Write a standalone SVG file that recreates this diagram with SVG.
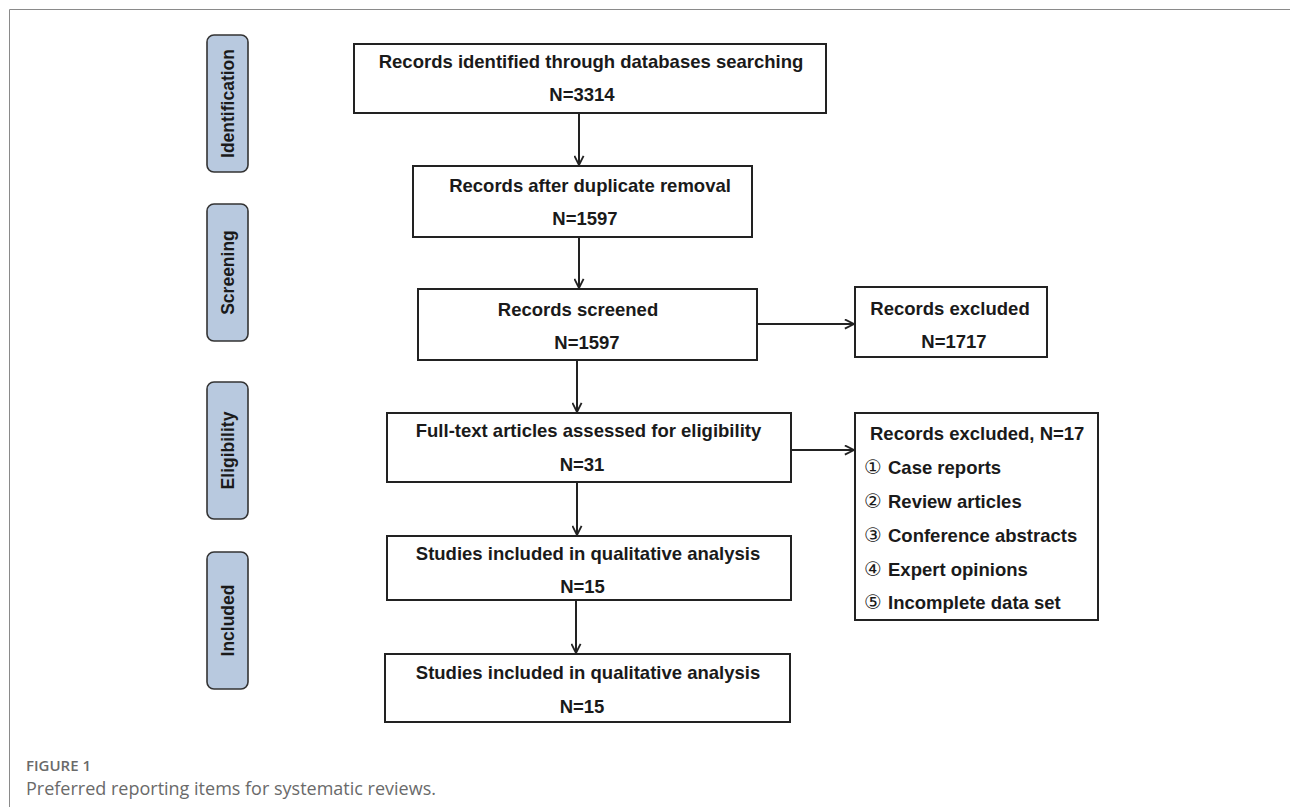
<svg xmlns="http://www.w3.org/2000/svg" width="1290" height="807" viewBox="0 0 1290 807">
<style>
.box{fill:#fff;stroke:#222;stroke-width:2}
.pill{fill:#b8c9df;stroke:#333;stroke-width:1.6}
.t{font-family:"Liberation Sans",Arial,sans-serif;font-weight:bold;font-size:18.5px;fill:#1a1a1a}
.m{text-anchor:middle}
.pt{font-family:"Liberation Sans",Arial,sans-serif;font-weight:bold;font-size:17.5px;fill:#1a1a1a;text-anchor:middle}
.cd{font-family:"DejaVu Sans",sans-serif;font-weight:normal;font-size:20px}
.conn{stroke:#222;stroke-width:2;fill:none}
.cap{font-family:"Open Sans","Liberation Sans",sans-serif;fill:#6a6a6a}
</style>
<defs>
<marker id="ah" viewBox="0 0 12 12" refX="11" refY="6" markerWidth="11" markerHeight="11" markerUnits="userSpaceOnUse" orient="auto">
<path d="M1,1 L11,6 L1,11" fill="none" stroke="#222" stroke-width="2"/>
</marker>
</defs>
<rect width="1290" height="807" fill="#fff"/>
<path d="M9.5,807 V9.5 H1290" fill="none" stroke="#8a8a8a" stroke-width="1"/>

<g id="stage-identification">
<rect class="pill" x="207" y="35" width="41" height="137" rx="7"/>
<text class="pt" transform="translate(233.5,103.5) rotate(-90)">Identification</text>
</g>
<g id="stage-screening">
<rect class="pill" x="207" y="204" width="41" height="137" rx="7"/>
<text class="pt" transform="translate(233.5,272.5) rotate(-90)">Screening</text>
</g>
<g id="stage-eligibility">
<rect class="pill" x="207" y="382" width="41" height="137" rx="7"/>
<text class="pt" transform="translate(233.5,450.5) rotate(-90)">Eligibility</text>
</g>
<g id="stage-included">
<rect class="pill" x="207" y="552" width="41" height="137" rx="7"/>
<text class="pt" transform="translate(233.5,620.5) rotate(-90)">Included</text>
</g>

<g id="n-identified">
<rect class="box" x="354" y="44" width="472" height="69"/>
<text class="t m" x="591" y="68">Records identified through databases searching</text>
<text class="t m" x="582" y="101">N=3314</text>
</g>
<g id="n-dedup">
<rect class="box" x="413" y="166" width="339" height="71"/>
<text class="t m" x="590" y="192">Records after duplicate removal</text>
<text class="t m" x="585" y="225">N=1597</text>
</g>
<g id="n-screened">
<rect class="box" x="418" y="289" width="339" height="71"/>
<text class="t m" x="578" y="316">Records screened</text>
<text class="t m" x="587" y="349">N=1597</text>
</g>
<g id="n-excluded1">
<rect class="box" x="855" y="287" width="192" height="70"/>
<text class="t m" x="950" y="315">Records excluded</text>
<text class="t m" x="954" y="348">N=1717</text>
</g>
<g id="n-fulltext">
<rect class="box" x="387" y="413" width="404" height="69"/>
<text class="t m" x="588.5" y="437">Full-text articles assessed for eligibility</text>
<text class="t m" x="582" y="471">N=31</text>
</g>
<g id="n-excluded2">
<rect class="box" x="855" y="413" width="243" height="207"/>
<text class="t" x="870" y="440">Records excluded, N=17</text>
<text class="t" x="864" y="474"><tspan class="cd">①</tspan><tspan x="888">Case reports</tspan></text>
<text class="t" x="864" y="508"><tspan class="cd">②</tspan><tspan x="888">Review articles</tspan></text>
<text class="t" x="864" y="542"><tspan class="cd">③</tspan><tspan x="888">Conference abstracts</tspan></text>
<text class="t" x="864" y="576"><tspan class="cd">④</tspan><tspan x="888">Expert opinions</tspan></text>
<text class="t" x="864" y="609"><tspan class="cd">⑤</tspan><tspan x="888">Incomplete data set</tspan></text>
</g>
<g id="n-qual1">
<rect class="box" x="387" y="536" width="404" height="64"/>
<text class="t m" x="588" y="560">Studies included in qualitative analysis</text>
<text class="t m" x="582.5" y="593">N=15</text>
</g>
<g id="n-qual2">
<rect class="box" x="385" y="654" width="405" height="68"/>
<text class="t m" x="588" y="679">Studies included in qualitative analysis</text>
<text class="t m" x="582" y="713">N=15</text>
</g>

<g id="connectors">
<line class="conn" x1="579" y1="113" x2="579" y2="165" marker-end="url(#ah)"/>
<line class="conn" x1="579" y1="237" x2="579" y2="288" marker-end="url(#ah)"/>
<line class="conn" x1="577" y1="360" x2="577" y2="412" marker-end="url(#ah)"/>
<line class="conn" x1="577" y1="482" x2="577" y2="535" marker-end="url(#ah)"/>
<line class="conn" x1="576" y1="600" x2="576" y2="653" marker-end="url(#ah)"/>
<line class="conn" x1="757" y1="324" x2="854" y2="324" marker-end="url(#ah)"/>
<line class="conn" x1="791" y1="450" x2="854" y2="450" marker-end="url(#ah)"/>
</g>

<g id="caption">
<text class="cap" x="26" y="771" font-size="15" font-weight="600">FIGURE 1</text>
<text class="cap" x="26" y="795" font-size="18">Preferred reporting items for systematic reviews.</text>
</g>
</svg>
